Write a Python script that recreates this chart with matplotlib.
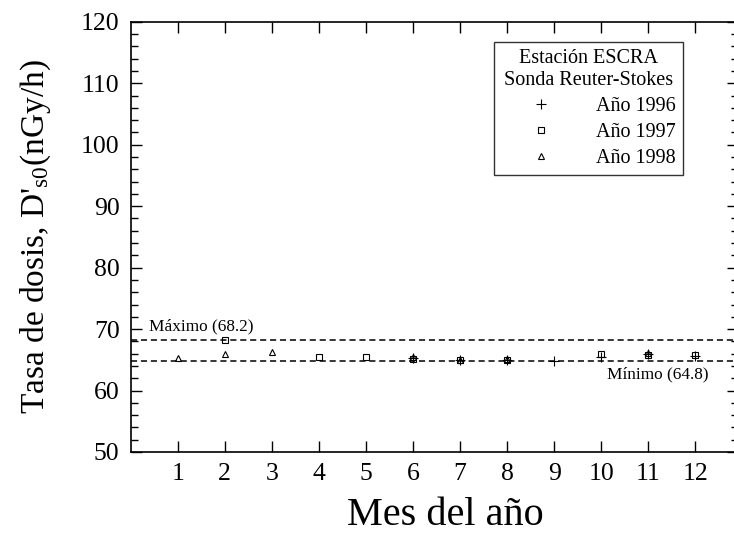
import numpy as np
import matplotlib.pyplot as plt
from matplotlib.ticker import MultipleLocator

plt.rcParams['font.family'] = ['Liberation Serif', 'DejaVu Serif']
plt.rcParams['mathtext.fontset'] = 'custom'
plt.rcParams['mathtext.rm'] = 'Liberation Serif'
plt.rcParams['mathtext.it'] = 'Liberation Serif:italic'

# monthly values
months_1996 = [6, 7, 8, 9, 10, 11, 12]
dose_1996 = [65.3, 64.9, 65.0, 64.8, 65.5, 66.0, 65.6]

months_1997 = [2, 4, 5, 6, 7, 8, 10, 11, 12]
dose_1997 = [68.2, 65.5, 65.5, 65.2, 64.9, 65.0, 65.9, 65.8, 65.8]

months_1998 = [1, 2, 3, 6, 7, 8, 11]
dose_1998 = [65.3, 65.9, 66.2, 65.4, 65.0, 65.2, 66.1]

max_val = 68.2
min_val = 64.8


def main():
    fig = plt.figure(figsize=(7.34, 5.33), dpi=100)
    # right edge runs slightly past the figure, as in the original
    ax = fig.add_axes([0.178, 0.152, 0.827, 0.807])

    ax.axhline(max_val, color='black', linestyle=(0, (4, 2.5)), linewidth=1.1)
    ax.axhline(min_val, color='black', linestyle=(0, (4, 2.5)), linewidth=1.1)

    ax.plot(months_1996, dose_1996, linestyle='none', marker='+', color='black',
            markersize=7, markeredgewidth=0.8, label='Año 1996')
    ax.plot(months_1997, dose_1997, linestyle='none', marker='s', color='black',
            markerfacecolor='none', markersize=5, markeredgewidth=0.8, label='Año 1997')
    ax.plot(months_1998, dose_1998, linestyle='none', marker='^', color='black',
            markerfacecolor='none', markersize=5, markeredgewidth=0.8, label='Año 1998')

    ax.text(0.38, max_val + 0.9, f'Máximo ({max_val})', fontsize=12.4, ha='left', va='bottom')
    ax.text(12.29, min_val - 0.9, f'Mínimo ({min_val})', fontsize=12.4, ha='right', va='top')

    ax.set_xlim(0, 12.9)
    ax.set_ylim(50, 120)
    ax.set_xticks(np.arange(1, 13))
    ax.yaxis.set_major_locator(MultipleLocator(10))
    ax.yaxis.set_minor_locator(MultipleLocator(2))
    ax.tick_params(axis='both', which='both', direction='in', top=True, right=True,
                   labelsize=18.5, width=1)
    ax.tick_params(axis='both', which='major', length=8, pad=8)
    ax.tick_params(axis='y', which='minor', length=5)
    for s in ax.spines.values():
        s.set_linewidth(1.2)

    ax.set_xlabel('Mes del año', fontsize=29)
    ax.xaxis.set_label_coords(0.519, -0.104)
    ax.set_ylabel(r"Tasa de dosis, D$'_{\mathrm{s0}}$(nGy/h)", fontsize=24, labelpad=20)

    leg = ax.legend(title='Estación ESCRA\nSonda Reuter-Stokes', loc='upper left',
                    bbox_to_anchor=(0.599, 0.953), fontsize=14.5, title_fontsize=14.5,
                    frameon=True, fancybox=False, edgecolor='black', handlelength=3.9,
                    handletextpad=0.8, borderpad=0.35, labelspacing=0.35,
                    markerfirst=True, borderaxespad=0, alignment='center')
    leg.get_frame().set_linewidth(1.0)
    leg.get_title().set_multialignment('center')

    plt.savefig('out.png', dpi=100)


if __name__ == '__main__':
    main()
